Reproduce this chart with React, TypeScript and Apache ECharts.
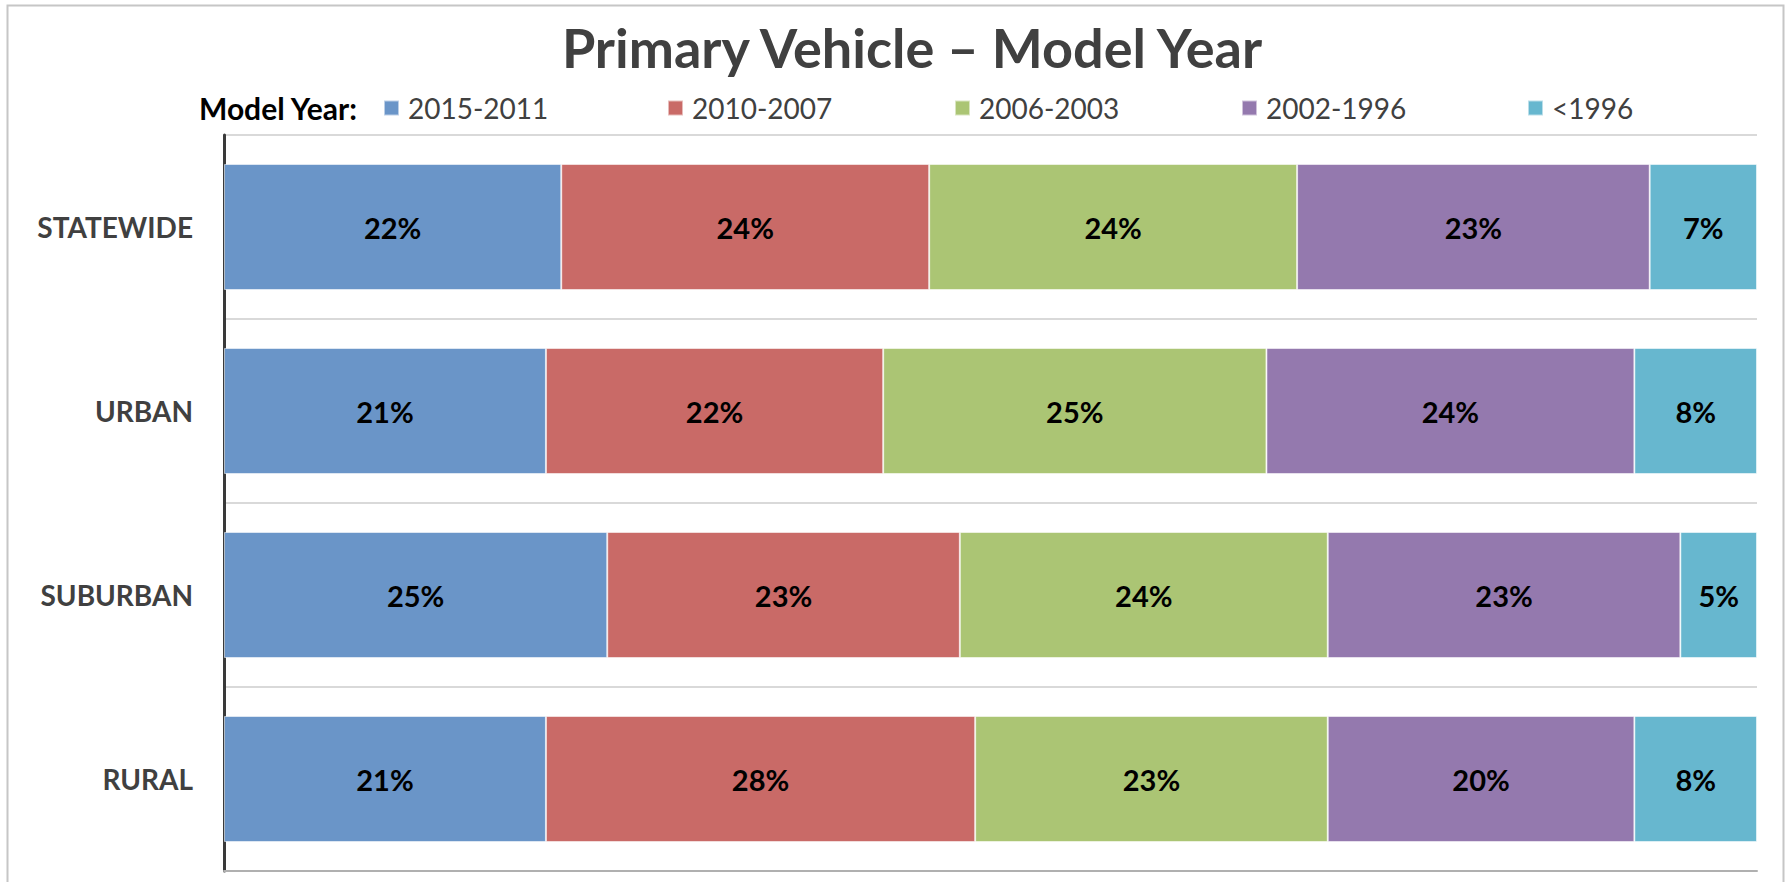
import React, { useEffect, useRef } from "react";
import * as echarts from "echarts";

const categories = ["STATEWIDE", "URBAN", "SUBURBAN", "RURAL"];
const seriesNames = ["2015-2011", "2010-2007", "2006-2003", "2002-1996", "<1996"];
const s2015_2011 = [22, 21, 25, 21];
const s2010_2007 = [24, 22, 23, 28];
const s2006_2003 = [24, 25, 24, 23];
const s2002_1996 = [23, 24, 23, 20];
const sBefore1996 = [7, 8, 5, 8];
const seriesValues = [s2015_2011, s2010_2007, s2006_2003, s2002_1996, sBefore1996];
const colors = ["#6a95c8", "#c96a67", "#abc574", "#9479ae", "#67b7cf"];
const legendLefts = [383, 667, 954, 1241, 1527];

const FONT = "Lato, 'Open Sans', sans-serif";

export default function App() {
  const ref = useRef<HTMLDivElement>(null);
  useEffect(() => {
    document.body.style.margin = "0";
    if (!ref.current) return;
    const chart = echarts.init(ref.current, null, { renderer: "svg" });
    chart.setOption({
      animation: false,
      backgroundColor: "#ffffff",
      textStyle: { fontFamily: FONT },
      graphic: [
        {
          type: "rect",
          shape: { x: 7.5, y: 5.5, width: 1776, height: 880 },
          style: { fill: "none", stroke: "#c6c6c6", lineWidth: 2 },
          silent: true,
        },
        {
          type: "text",
          x: 912,
          y: 47,
          style: {
            text: "Primary Vehicle – Model Year",
            font: `bold 54px ${FONT}`,
            fill: "#404040",
            textAlign: "center",
            textVerticalAlign: "middle",
          },
        },
        {
          type: "text",
          x: 199,
          y: 108,
          style: {
            text: "Model Year:",
            font: `bold 30px ${FONT}`,
            fill: "#000000",
            textAlign: "left",
            textVerticalAlign: "middle",
          },
        },
      ],
      legend: seriesNames.map((name, i) => ({
        data: [name],
        left: legendLefts[i],
        top: 93,
        padding: 0,
        itemWidth: 15,
        itemHeight: 15,
        icon: "rect",
        selectedMode: false,
        textStyle: {
          fontFamily: FONT,
          fontSize: 28,
          color: "#404040",
          lineHeight: 30,
          padding: [0, 0, 0, 4],
        },
      })),
      grid: { left: 224, right: 32, top: 135, bottom: 11, containLabel: false },
      xAxis: {
        type: "value",
        min: 0,
        max: 100,
        axisLabel: { show: false },
        splitLine: { show: false },
        axisTick: { show: false },
        axisLine: { show: true, lineStyle: { color: "#b0b0b0", width: 2 } },
      },
      yAxis: {
        type: "category",
        data: categories,
        inverse: true,
        axisTick: { show: false },
        axisLine: { show: true, lineStyle: { color: "#3a3a3a", width: 3 } },
        splitLine: { show: true, lineStyle: { color: "#d9d9d9", width: 2 } },
        axisLabel: {
          fontFamily: FONT,
          fontSize: 28,
          fontWeight: "bold",
          color: "#404040",
          margin: 31,
        },
      },
      series: seriesNames.map((name, i) => ({
        name,
        type: "bar",
        stack: "total",
        data: seriesValues[i],
        barCategoryGap: "31.5%",
        itemStyle: {
          color: colors[i],
          borderColor: "rgba(255,255,255,0.55)",
          borderWidth: 1,
        },
        label: {
          show: true,
          position: "inside",
          formatter: "{c}%",
          fontFamily: FONT,
          fontSize: 29,
          fontWeight: "bold",
          color: "#000000",
        },
      })),
    });
    return () => chart.dispose();
  }, []);
  return <div ref={ref} style={{ width: 1789, height: 882 }} />;
}
